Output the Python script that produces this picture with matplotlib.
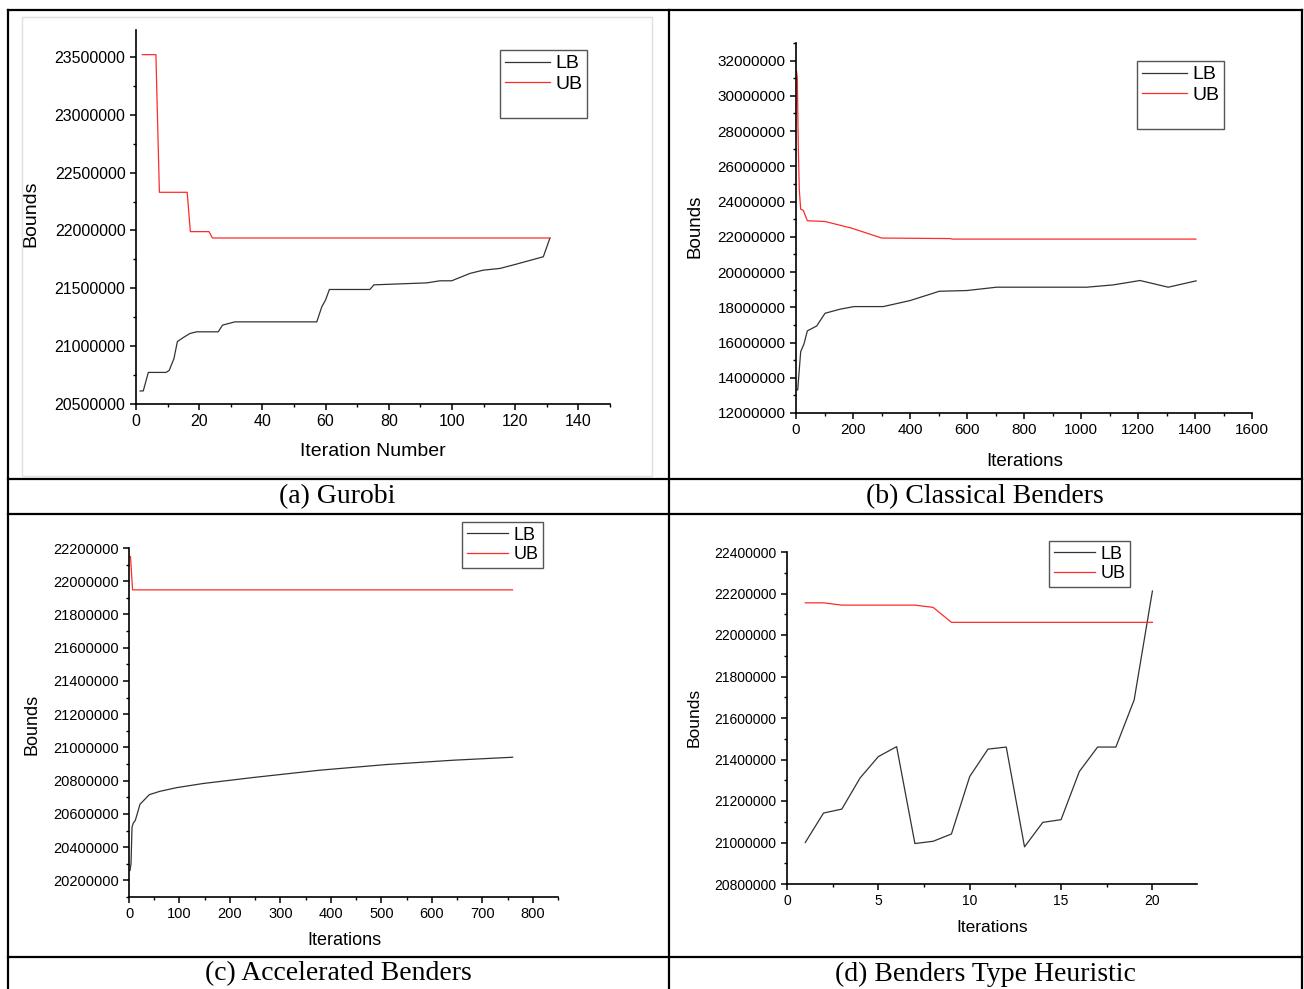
import matplotlib
matplotlib.use("Agg")
import matplotlib.pyplot as plt
from matplotlib.lines import Line2D
from matplotlib.patches import Rectangle
from matplotlib.ticker import MultipleLocator, FuncFormatter

plt.rcParams['font.family'] = ['Liberation Sans', 'DejaVu Sans']

W, H = 1304, 989

# (a) Gurobi
a_ub_x = [2, 6.3, 7.4, 16.2, 17.2, 23.1, 24.2, 131]
a_ub_y = [23520000, 23520000, 22330000, 22330000, 21990000, 21990000, 21935000, 21935000]
a_lb_x = [1.3, 2.3, 3.9, 9.5, 10.5, 12.0, 13.1, 15.0, 17.1, 19.2, 26.0, 27.4, 31.3, 57.2,
          58.8, 60.0, 61.2, 74.0, 75.3, 92.0, 96.2, 99.9, 105.7, 109.9, 115.2, 120.5, 128.9, 131.0]
a_lb_y = [20613000, 20613000, 20773000, 20773000, 20790000, 20892000, 21040000, 21075000,
          21110000, 21124000, 21124000, 21182000, 21210000, 21210000, 21340000, 21400000,
          21490000, 21490000, 21530000, 21547000, 21565000, 21565000, 21629000, 21657000,
          21672000, 21710000, 21773000, 21935000]

# (b) Classical Benders
b_ub_x = [2, 4.6, 8, 11.6, 16.4, 25.7, 39.8, 101.8, 195.4, 300.6, 540, 548.5, 1403]
b_ub_y = [31390000, 31000000, 27130000, 24670000, 23570000, 23500000, 22910000, 22870000,
          22490000, 21930000, 21900000, 21870000, 21870000]
b_lb_x = [2, 6, 16.4, 28, 39.8, 72.6, 101.8, 154, 203.5, 306, 400, 503, 599, 704, 1020,
          1113, 1207, 1306, 1404]
b_lb_y = [13310000, 13310000, 15480000, 15920000, 16660000, 16940000, 17660000, 17890000,
          18040000, 18040000, 18380000, 18910000, 18950000, 19140000, 19140000, 19270000,
          19520000, 19140000, 19500000]

# (c) Accelerated Benders
c_ub_x = [1, 3, 7, 760]
c_ub_y = [22150000, 22148000, 21948000, 21948000]
c_lb_x = [2, 4, 6, 8.6, 12.5, 21.8, 40.3, 61.4, 94.4, 147, 246, 378, 510, 642, 760]
c_lb_y = [20260000, 20300000, 20521000, 20545000, 20561000, 20658000, 20716000, 20736000,
          20758000, 20783000, 20819000, 20863000, 20897000, 20923000, 20941000]

# (d) Benders Type Heuristic
d_x = list(range(1, 21))
d_lb = [21000000, 21142000, 21161000, 21311000, 21414000, 21462000, 20995000, 21006000,
        21041000, 21318000, 21450000, 21460000, 20979000, 21097000, 21110000, 21342000,
        21460000, 21460000, 21687000, 22212000]
d_ub = [22155000, 22155000, 22144000, 22144000, 22144000, 22144000, 22144000, 22133000,
        22061000, 22061000, 22061000, 22061000, 22061000, 22061000, 22061000, 22061000,
        22061000, 22061000, 22061000, 22061000]

captions = ["(a) Gurobi", "(b) Classical Benders", "(c) Accelerated Benders",
            "(d) Benders Type Heuristic"]


def fx(x):
    return x / W


def fy(y):
    return 1 - y / H


fig = plt.figure(figsize=(W / 100, H / 100), dpi=100)

# table lines
def hline(y, x0, x1, lw=1.6):
    fig.add_artist(Line2D([fx(x0), fx(x1)], [fy(y), fy(y)], color='black', lw=lw))


def vline(x, y0, y1, lw=1.6):
    fig.add_artist(Line2D([fx(x), fx(x)], [fy(y0), fy(y1)], color='black', lw=lw))


for yy in [10, 479, 514, 957]:
    hline(yy, 8, 1302)
for xx in [8, 669, 1302]:
    vline(xx, 10, 989)

# faint frame of the first picture
fig.add_artist(Rectangle((fx(22), fy(476)), fx(652) - fx(22), fy(17) - fy(476),
                         fill=False, ec='#e0e0e0', lw=1.0))

fmt = FuncFormatter(lambda v, p: '%d' % v)


def make_ax(box, xlim, ylim, xmaj, xmin, ymaj, ymin, tick_fs, xlabel, xl_pos, yl_pos, lab_fs):
    x0, y0, x1, y1 = box
    ax = fig.add_axes([fx(x0), fy(y1), fx(x1) - fx(x0), fy(y0) - fy(y1)])
    ax.set_xlim(*xlim)
    ax.set_ylim(*ylim)
    ax.spines['top'].set_visible(False)
    ax.spines['right'].set_visible(False)
    for s in ['left', 'bottom']:
        ax.spines[s].set_linewidth(1.2)
    ax.xaxis.set_major_locator(MultipleLocator(xmaj))
    ax.xaxis.set_minor_locator(MultipleLocator(xmin))
    ax.yaxis.set_major_locator(MultipleLocator(ymaj))
    ax.yaxis.set_minor_locator(MultipleLocator(ymin))
    ax.yaxis.set_major_formatter(fmt)
    ax.tick_params(which='major', direction='out', length=4.5, width=1.1, labelsize=tick_fs, pad=3)
    ax.tick_params(which='minor', direction='out', length=2.5, width=1.0)
    ax.set_xlabel(xlabel, fontsize=lab_fs, va='center')
    ax.set_ylabel('Bounds', fontsize=lab_fs, va='center')
    ax.xaxis.set_label_coords((xl_pos[0] - x0) / (x1 - x0), (y1 - xl_pos[1]) / (y1 - y0))
    ax.yaxis.set_label_coords((yl_pos[0] - x0) / (x1 - x0), (y1 - yl_pos[1]) / (y1 - y0))
    return ax


def add_legend(ax, corner, fs, blank):
    handles = [Line2D([], [], color='#333333', lw=0.9), Line2D([], [], color='#ff2a2a', lw=0.9)]
    labels = ['LB', 'UB']
    if blank:
        handles.append(Line2D([], [], color='none'))
        labels.append(' ')
    leg = ax.legend(handles, labels, loc='upper left',
                    bbox_to_anchor=(fx(corner[0]), fy(corner[1])),
                    bbox_transform=fig.transFigure, borderaxespad=0, fontsize=fs,
                    fancybox=False, framealpha=1, edgecolor='#555555',
                    handlelength=2.3, handletextpad=0.3, labelspacing=0.15,
                    borderpad=0.25)
    leg.get_frame().set_linewidth(1.0)


# (a)
ax = make_ax((136, 30, 610, 404), (0, 150), (20500000, 23733000), 20, 10, 500000, 250000,
             11.5, 'Iteration Number', (373, 452), (31, 214), 14)
ax.plot(a_lb_x, a_lb_y, color='#333333', lw=0.9)
ax.plot(a_ub_x, a_ub_y, color='#ff2a2a', lw=0.9)
add_legend(ax, (500, 50), 14, True)

# (b)
ax = make_ax((796, 43, 1252, 413), (0, 1600), (12000000, 33000000), 200, 100, 2000000, 1000000,
             11, 'Iterations', (1025, 461), (695, 226), 13.5)
ax.plot(b_lb_x, b_lb_y, color='#333333', lw=0.9)
ax.plot(b_ub_x, b_ub_y, color='#ff2a2a', lw=0.9)
add_legend(ax, (1137, 61), 14, True)

# (c)
ax = make_ax((129, 548, 558, 897), (0, 850), (20100000, 22200000), 100, 50, 200000, 100000,
             10.5, 'Iterations', (344, 941), (32, 724), 13)
ax.plot(c_lb_x, c_lb_y, color='#333333', lw=0.9)
ax.plot(c_ub_x, c_ub_y, color='#ff2a2a', lw=0.9)
add_legend(ax, (462, 522), 13, False)

# (d)
ax = make_ax((787, 552, 1197, 884), (0, 22.44), (20800000, 22400000), 5, 2.5, 200000, 100000,
             10, 'Iterations', (992, 927), (694, 717), 12.5)
ax.plot(d_x, d_lb, color='#333333', lw=0.9)
ax.plot(d_x, d_ub, color='#ff2a2a', lw=0.9)
add_legend(ax, (1049, 541), 13, False)

# captions
for txt, (cx, cy) in zip(captions, [(337, 497), (985, 497), (338, 974), (985, 974)]):
    fig.text(fx(cx), fy(cy), txt, ha='center', va='center', fontsize=20,
             family=['Liberation Serif', 'DejaVu Serif'])

fig.savefig('out.png', dpi=100)
